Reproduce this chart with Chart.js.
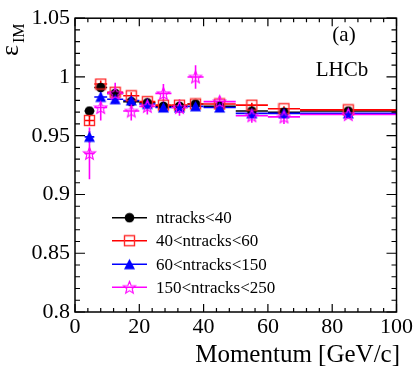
<!DOCTYPE html>
<html>
<head>
<meta charset="utf-8">
<script src="https://cdn.jsdelivr.net/npm/chart.js@4.4.0/dist/chart.umd.min.js"></script>
<style>
  html, body { margin: 0; padding: 0; background: #fff; }
  canvas { display: block; }
</style>
</head>
<body>
<canvas id="chart" width="415" height="374"></canvas>
<script>
// ---- data ----
const momentum = [4.5, 8, 12.5, 17.5, 22.5, 27.5, 32.5, 37.5, 45, 55, 65, 85];
const binHalf  = [1.5, 2, 2.5, 2.5, 2.5, 2.5, 2.5, 2.5, 5, 5, 5, 15];

const labels = ['ntracks<40', '40<ntracks<60', '60<ntracks<150', '150<ntracks<250'];

const effLt40    = [0.971, 0.991, 0.986, 0.979, 0.978, 0.975, 0.975, 0.977, 0.975, 0.971, 0.970, 0.971];
const eff40to60  = [0.963, 0.994, 0.987, 0.984, 0.979, 0.976, 0.976, 0.977, 0.977, 0.976, 0.973, 0.972];
const eff60to150 = [0.949, 0.983, 0.981, 0.980, 0.977, 0.974, 0.974, 0.975, 0.974, 0.969, 0.969, 0.969];
const eff150to250= [0.935, 0.974, 0.986, 0.971, 0.975, 0.986, 0.974, 1.000, 0.979, 0.967, 0.966, 0.968];

const errLt40    = [0.003, 0.002, 0.002, 0.002, 0.002, 0.002, 0.002, 0.002, 0.002, 0.002, 0.002, 0.002];
const err40to60  = [0.004, 0.003, 0.003, 0.003, 0.002, 0.002, 0.002, 0.002, 0.002, 0.002, 0.002, 0.002];
const err60to150 = [0.005, 0.004, 0.003, 0.003, 0.003, 0.003, 0.002, 0.002, 0.002, 0.002, 0.002, 0.002];
const err150to250= [0.022, 0.011, 0.009, 0.008, 0.007, 0.008, 0.007, 0.010, 0.005, 0.006, 0.006, 0.003];

const xTicks = [0, 20, 40, 60, 80, 100];
const yTicks = [0.8, 0.85, 0.9, 0.95, 1, 1.05];

const SERIF = "'Liberation Serif', 'DejaVu Serif', serif";
Chart.defaults.font.family = SERIF;
Chart.defaults.color = '#000';

// ---- marker images (ROOT style markers) ----
function makeMarker(size, draw) {
  const c = document.createElement('canvas');
  c.width = size; c.height = size;
  draw(c.getContext('2d'), size);
  return c;
}

const mkCircle = makeMarker(11, (g) => {
  g.fillStyle = '#000';
  g.beginPath(); g.arc(5.5, 5.5, 4.8, 0, Math.PI * 2); g.fill();
});
const mkSquare = makeMarker(13, (g) => {
  g.strokeStyle = '#ff2a2a'; g.lineWidth = 1.4;
  g.strokeRect(1.5, 1.5, 10, 10);
});
const mkTriangle = makeMarker(13, (g) => {
  g.fillStyle = '#0000ff';
  g.beginPath(); g.moveTo(6.5, 1); g.lineTo(12, 11.5); g.lineTo(1, 11.5); g.closePath(); g.fill();
});
const mkStar = makeMarker(15, (g) => {
  g.strokeStyle = '#ff00ff'; g.lineWidth = 1.1;
  g.beginPath();
  for (let i = 0; i < 10; i++) {
    const r = i % 2 === 0 ? 6.5 : 2.8;
    const a = -Math.PI / 2 + i * Math.PI / 5;
    const px = 7.5 + r * Math.cos(a), py = 8 + r * Math.sin(a);
    if (i === 0) g.moveTo(px, py); else g.lineTo(px, py);
  }
  g.closePath(); g.stroke();
});

const series = [
  { label: labels[0], y: effLt40,     err: errLt40,     color: '#000000', marker: mkCircle,   order: 3 },
  { label: labels[1], y: eff40to60,   err: err40to60,   color: '#ff0000', marker: mkSquare,   order: 2 },
  { label: labels[2], y: eff60to150,  err: err60to150,  color: '#0000ff', marker: mkTriangle, order: 1 },
  { label: labels[3], y: eff150to250, err: err150to250, color: '#ff00ff', marker: mkStar,     order: 0 }
];

// ---- plugin: error bars, frame with inward ticks, texts, legend ----
const rootStyle = {
  id: 'rootStyle',
  beforeDatasetsDraw(chart) {
    const { ctx, scales: { x, y } } = chart;
    ctx.save();
    ctx.lineWidth = 1.6;
    // ROOT order: first series at the bottom
    series.forEach(s => {
      ctx.strokeStyle = s.color;
      momentum.forEach((m, i) => {
        const py = y.getPixelForValue(s.y[i]);
        const px = x.getPixelForValue(m);
        ctx.beginPath();
        ctx.moveTo(x.getPixelForValue(m - binHalf[i]), py);
        ctx.lineTo(x.getPixelForValue(m + binHalf[i]), py);
        ctx.moveTo(px, y.getPixelForValue(s.y[i] - s.err[i]));
        ctx.lineTo(px, y.getPixelForValue(s.y[i] + s.err[i]));
        ctx.stroke();
      });
    });
    ctx.restore();
  },
  afterDraw(chart) {
    const { ctx, chartArea: a, scales: { x, y } } = chart;
    ctx.save();

    // frame
    ctx.strokeStyle = '#000';
    ctx.lineWidth = 1.5;
    ctx.strokeRect(a.left, a.top, a.right - a.left, a.bottom - a.top);

    // ticks on all four sides, pointing inward
    ctx.lineWidth = 1.2;
    ctx.beginPath();
    for (let v = 0; v <= 100.001; v += 4) {
      const px = x.getPixelForValue(v);
      const len = (Math.round(v) % 20 === 0) ? 8 : 4;
      ctx.moveTo(px, a.bottom); ctx.lineTo(px, a.bottom - len);
      ctx.moveTo(px, a.top);    ctx.lineTo(px, a.top + len);
    }
    for (let k = 0; k <= 25; k++) {
      const v = 0.8 + k * 0.01;
      const py = y.getPixelForValue(v);
      const len = (k % 5 === 0) ? 10 : 5;
      ctx.moveTo(a.left, py);  ctx.lineTo(a.left + len, py);
      ctx.moveTo(a.right, py); ctx.lineTo(a.right - len, py);
    }
    ctx.stroke();

    ctx.fillStyle = '#000';

    // x title
    ctx.font = `25px ${SERIF}`;
    ctx.textAlign = 'right';
    ctx.textBaseline = 'alphabetic';
    ctx.fillText('Momentum [GeV/c]', 400, 362);

    // y title: epsilon with subscript IM, rotated
    ctx.save();
    ctx.translate(18, 56);
    ctx.rotate(-Math.PI / 2);
    ctx.textAlign = 'left';
    ctx.font = `26px ${SERIF}`;
    ctx.fillText('ε', 0, 0);
    const w = ctx.measureText('ε').width;
    ctx.font = `16px ${SERIF}`;
    ctx.fillText('IM', w + 2, 6);
    ctx.restore();

    // labels
    ctx.font = `21px ${SERIF}`;
    ctx.textAlign = 'center';
    ctx.textBaseline = 'middle';
    ctx.fillText('(a)', 344, 35);
    ctx.fillText('LHCb', 342, 70);

    // legend
    const rows = [217.7, 240.7, 264.3, 287.3];
    ctx.font = `17px ${SERIF}`;
    ctx.textAlign = 'left';
    series.forEach((s, i) => {
      const ry = rows[i];
      ctx.strokeStyle = s.color;
      ctx.lineWidth = 1.6;
      ctx.beginPath(); ctx.moveTo(112, ry); ctx.lineTo(147, ry); ctx.stroke();
      const m = s.marker;
      ctx.drawImage(m, 129.5 - m.width / 2, ry - m.height / 2);
      ctx.fillStyle = '#000';
      ctx.fillText(s.label, 156, ry + 1);
    });

    ctx.restore();
  }
};

new Chart(document.getElementById('chart'), {
  type: 'scatter',
  data: {
    datasets: series.map(s => ({
      label: s.label,
      data: momentum.map((m, i) => ({ x: m, y: s.y[i] })),
      pointStyle: s.marker,
      pointRadius: 5,
      borderColor: s.color,
      backgroundColor: s.color,
      showLine: false,
      order: s.order
    }))
  },
  options: {
    responsive: false,
    animation: false,
    devicePixelRatio: 1,
    layout: { padding: { left: 0, right: 17, top: 18, bottom: 0 } },
    plugins: {
      legend: { display: false },
      tooltip: { enabled: false }
    },
    scales: {
      x: {
        type: 'linear',
        min: 0, max: 100,
        afterFit: sc => { sc.height = 62; },
        afterBuildTicks: sc => { sc.ticks = xTicks.map(v => ({ value: v })); },
        grid: { display: false, drawTicks: false },
        border: { display: false },
        ticks: {
          padding: 2,
          maxRotation: 0,
          color: '#000',
          font: { family: SERIF, size: 22 },
          callback: v => String(v)
        }
      },
      y: {
        type: 'linear',
        min: 0.8, max: 1.05,
        afterFit: sc => { sc.width = 75; },
        afterBuildTicks: sc => { sc.ticks = yTicks.map(v => ({ value: v })); },
        grid: { display: false, drawTicks: false },
        border: { display: false },
        ticks: {
          padding: 5,
          color: '#000',
          font: { family: SERIF, size: 22 },
          callback: v => String(+Number(v).toFixed(2))
        }
      }
    }
  },
  plugins: [rootStyle]
});
</script>
</body>
</html>
